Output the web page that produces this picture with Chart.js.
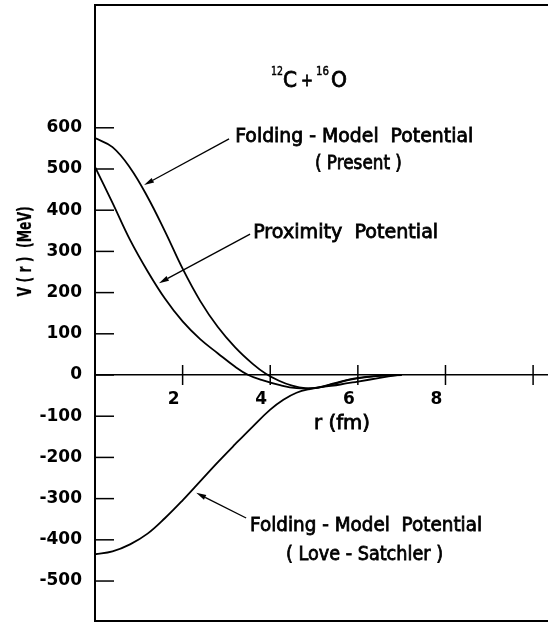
<!DOCTYPE html>
<html>
<head>
<meta charset="utf-8">
<script src="https://cdn.jsdelivr.net/npm/chart.js@4.4.0/dist/chart.umd.min.js"></script>
<style>
html, body { margin: 0; padding: 0; background: #fff; overflow: hidden; }
#wrap { width: 560px; height: 623px; }
</style>
</head>
<body>
<div id="wrap"><canvas id="myChartPotential" width="560" height="623"></canvas></div>
<script>
// r in fm, V(r) in MeV
var rPresent = [0, 0.4, 0.8, 1.2, 1.6, 2.0, 2.4, 2.8, 3.2, 3.6, 3.9, 4.2, 4.5, 4.8, 5.1, 5.5, 6.0, 6.5, 7.0];
var vPresent = [575, 553, 503, 432, 348, 258, 180, 117, 67, 27, 3, -14, -26, -32, -30, -19, -7, -2, 0];

var rProximity = [0, 0.4, 0.8, 1.2, 1.6, 2.0, 2.4, 2.8, 3.2, 3.5, 3.8, 4.2, 4.6, 5.0, 5.4, 5.8, 6.2, 6.6, 7.0];
var vProximity = [505, 418, 328, 252, 185, 130, 87, 53, 20, 0, -12, -24, -32, -32, -23, -12, -5, -1, 0];

var rLoveSatchler = [0, 0.4, 0.8, 1.2, 1.6, 2.0, 2.4, 2.8, 3.2, 3.6, 4.0, 4.3, 4.6, 4.9, 5.2, 5.6, 6.0, 6.5, 6.9];
var vLoveSatchler = [-435, -428, -411, -385, -347, -304, -258, -212, -168, -125, -84, -60, -43, -34, -29, -23, -16, -7, 0];

var yTickValues = [600, 500, 400, 300, 200, 100, 0, -100, -200, -300, -400, -500];
var xTickValues = [2, 4, 6, 8, 10];
var xTickLabels = ['2', '4', '6', '8', ''];

var curveNames = ['Folding-Model Potential (Present)', 'Proximity Potential', 'Folding-Model Potential (Love-Satchler)'];

function toPoints(rs, vs) {
	return rs.map(function (r, i) {
		return { x: r, y: vs[i] };
	});
}

// labels and arrows placed in data units (r, V)
var notes = [
	{ text: 'Folding - Model  Potential', r: 3.2, v: 565, w: 238 },
	{ text: '( Present )', r: 5.02, v: 500, w: 87 },
	{ text: 'Proximity  Potential', r: 3.61, v: 333, w: 185 },
	{ text: 'Folding - Model  Potential', r: 3.54, v: -379, w: 232 },
	{ text: '( Love - Satchler )', r: 4.36, v: -449, w: 157 },
];
var arrows = [
	{ from: [3.06, 573], to: [1.12, 461] },
	{ from: [3.54, 342], to: [1.46, 223] },
	{ from: [3.45, -347], to: [2.31, -286] },
];

// lettering: regular face, filled and lightly stroked, squeezed to width
function fitText(ctx, text, x, y, w, stroke) {
	var m = ctx.measureText(text).width;
	ctx.save();
	ctx.translate(x, y);
	ctx.scale(w / m, 1);
	ctx.fillText(text, 0, 0);
	ctx.lineWidth = stroke || 0.8;
	ctx.strokeText(text, 0, 0);
	ctx.restore();
}

var figureMarks = {
	id: 'figureMarks',
	afterDraw: function (chart) {
		var ctx = chart.ctx;
		var xs = chart.scales.x;
		var ys = chart.scales.y;
		var area = chart.chartArea;
		ctx.save();
		ctx.strokeStyle = '#000';
		ctx.fillStyle = '#000';

		// frame
		ctx.lineWidth = 2;
		ctx.beginPath();
		ctx.moveTo(area.left, area.top);
		ctx.lineTo(area.right, area.top);
		ctx.moveTo(area.left, area.bottom);
		ctx.lineTo(area.right, area.bottom);
		ctx.stroke();

		// inward ticks on V axis, crossing ticks on r axis
		ctx.lineWidth = 1.5;
		ys.ticks.forEach(function (t) {
			var py = ys.getPixelForValue(t.value);
			ctx.beginPath();
			ctx.moveTo(area.left, py);
			ctx.lineTo(area.left + 19, py);
			ctx.stroke();
		});
		var y0 = ys.getPixelForValue(0);
		xs.ticks.forEach(function (t) {
			var px = xs.getPixelForValue(t.value);
			ctx.beginPath();
			ctx.moveTo(px, y0 - 10);
			ctx.lineTo(px, y0 + 10);
			ctx.stroke();
		});

		// arrows
		ctx.lineWidth = 1.3;
		arrows.forEach(function (a) {
			var x1 = xs.getPixelForValue(a.from[0]), y1 = ys.getPixelForValue(a.from[1]);
			var x2 = xs.getPixelForValue(a.to[0]), y2 = ys.getPixelForValue(a.to[1]);
			var dx = x2 - x1, dy = y2 - y1, len = Math.sqrt(dx * dx + dy * dy);
			dx /= len; dy /= len;
			var bx = x2 - dx * 10, by = y2 - dy * 10;
			ctx.beginPath();
			ctx.moveTo(x1, y1);
			ctx.lineTo(bx, by);
			ctx.stroke();
			ctx.beginPath();
			ctx.moveTo(x2, y2);
			ctx.lineTo(bx - dy * 2.6, by + dx * 2.6);
			ctx.lineTo(bx + dy * 2.6, by - dx * 2.6);
			ctx.closePath();
			ctx.fill();
		});

		// labels
		ctx.font = '19px "DejaVu Sans"';
		ctx.textBaseline = 'alphabetic';
		ctx.textAlign = 'left';
		notes.forEach(function (n) {
			fitText(ctx, n.text, xs.getPixelForValue(n.r), ys.getPixelForValue(n.v), n.w);
		});

		// 12C + 16O
		var tx = xs.getPixelForValue(4.04), ty = ys.getPixelForValue(699);
		ctx.font = '13px "DejaVu Sans"';
		fitText(ctx, '12', tx - 1, ty - 12, 12, 0.5);
		fitText(ctx, '16', tx + 44, ty - 12, 13, 0.5);
		ctx.font = '21px "DejaVu Sans"';
		fitText(ctx, 'C', tx + 11, ty, 14);
		fitText(ctx, 'O', tx + 59, ty, 16);
		ctx.font = '17px "DejaVu Sans"';
		fitText(ctx, '+', tx + 29, ty - 1, 12);

		// axis titles
		ctx.font = 'bold 19px "DejaVu Sans"';
		ctx.save();
		ctx.translate(31, ys.getPixelForValue(300));
		ctx.rotate(-Math.PI / 2);
		fitText(ctx, 'V ( r )  (MeV)', -45, 0, 90, 0.2);
		ctx.restore();
		ctx.font = '19px "DejaVu Sans"';
		fitText(ctx, 'r (fm)', xs.getPixelForValue(5.0), ys.getPixelForValue(-130), 56);

		ctx.restore();
	},
};

var ctx = document.getElementById('myChartPotential');
var myChart = new Chart(ctx, {
	type: 'line',
	data: {
		datasets: [
			{ label: curveNames[0], data: toPoints(rPresent, vPresent) },
			{ label: curveNames[1], data: toPoints(rProximity, vProximity) },
			{ label: curveNames[2], data: toPoints(rLoveSatchler, vLoveSatchler) },
		],
	},
	options: {
		responsive: false,
		animation: false,
		devicePixelRatio: 1,
		layout: { padding: { left: 0, top: 5, right: 5, bottom: 2 } },
		plugins: {
			legend: { display: false },
			tooltip: { enabled: false },
		},
		elements: {
			point: { radius: 0 },
			line: {
				borderColor: '#000',
				borderWidth: 1.8,
				tension: 0.4,
				fill: false,
			},
		},
		scales: {
			x: {
				type: 'linear',
				position: { y: 0 },
				min: 0,
				max: 10.5,
				grid: { display: false, drawTicks: false },
				border: { display: true, color: '#000', width: 1.5 },
				ticks: {
					color: '#000',
					font: { family: '"DejaVu Sans"', size: 17, weight: 'bold' },
					padding: 14,
					labelOffset: -9,
					maxRotation: 0,
					autoSkip: false,
					callback: function (value) {
						var i = xTickValues.indexOf(value);
						return i >= 0 ? xTickLabels[i] : '';
					},
				},
				afterBuildTicks: function (scale) {
					scale.ticks = xTickValues.map(function (v) {
						return { value: v };
					});
				},
				afterFit: function (scale) {
					scale.paddingLeft = 0;
					scale.paddingRight = 0;
				},
			},
			y: {
				type: 'linear',
				position: 'left',
				min: -597,
				max: 898,
				grid: { display: false, drawTicks: false },
				border: { display: true, color: '#000', width: 2 },
				ticks: {
					color: '#000',
					font: { family: '"DejaVu Sans"', size: 17, weight: 'bold' },
					padding: 13,
					autoSkip: false,
				},
				afterBuildTicks: function (scale) {
					scale.ticks = yTickValues.map(function (v) {
						return { value: v };
					});
				},
				afterFit: function (scale) {
					scale.width = 95;
					scale.paddingTop = 0;
					scale.paddingBottom = 0;
				},
			},
		},
	},
	plugins: [figureMarks],
});
</script>
</body>
</html>
